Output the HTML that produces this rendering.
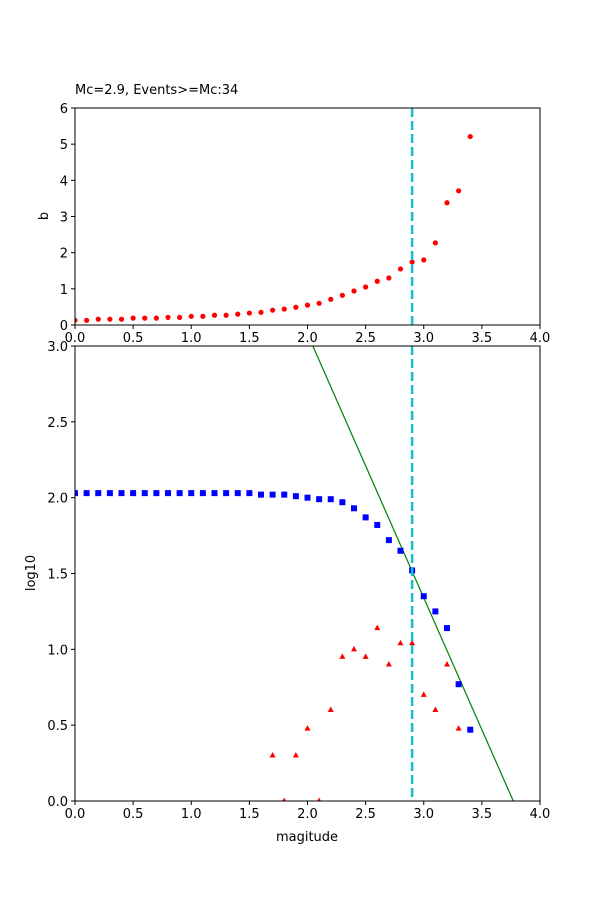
<!DOCTYPE html>
<html><head><meta charset="utf-8"><style>
body{margin:0;background:#fff}
svg{display:block;font-family:"DejaVu Sans","Liberation Sans",sans-serif}
</style></head><body>
<svg id="fig" width="600" height="900" viewBox="0 0 600 900" xmlns="http://www.w3.org/2000/svg">
<rect width="600" height="900" fill="#fff"/>
<text x="75" y="94" font-size="13" fill="#000">Mc=2.9, Events&gt;=Mc:34</text>
<g id="top"></g>
<g id="bot"></g>
<text x="0" y="0" font-size="13" text-anchor="middle" transform="translate(48,216) rotate(-90)">b</text>
<text x="0" y="0" font-size="13" text-anchor="middle" transform="translate(35,573) rotate(-90)">log10</text>
<text x="307" y="841" font-size="13" text-anchor="middle">magitude</text>
</svg>
<script>
const mags = [0,0.1,0.2,0.3,0.4,0.5,0.6,0.7,0.8,0.9,1.0,1.1,1.2,1.3,1.4,1.5,1.6,1.7,1.8,1.9,2.0,2.1,2.2,2.3,2.4,2.5,2.6,2.7,2.8,2.9,3.0,3.1,3.2,3.3,3.4];
const bValues = [0.13,0.13,0.16,0.16,0.16,0.19,0.19,0.19,0.21,0.21,0.24,0.24,0.27,0.27,0.30,0.33,0.35,0.41,0.44,0.49,0.55,0.60,0.71,0.82,0.94,1.05,1.21,1.30,1.55,1.74,1.80,2.27,3.38,3.71,5.21];
const cumLog = [2.03,2.03,2.03,2.03,2.03,2.03,2.03,2.03,2.03,2.03,2.03,2.03,2.03,2.03,2.03,2.03,2.02,2.02,2.02,2.01,2.00,1.99,1.99,1.97,1.93,1.87,1.82,1.72,1.65,1.52,1.35,1.25,1.14,0.77,0.47];
const triMags = [1.7,1.8,1.9,2.0,2.1,2.2,2.3,2.4,2.5,2.6,2.7,2.8,2.9,3.0,3.1,3.2,3.3];
const triLog = [0.30,0,0.30,0.477,0,0.60,0.95,1.0,0.95,1.14,0.90,1.04,1.04,0.70,0.60,0.90,0.477];
const mc = 2.9;
const fitA = 6.56, fitB = 1.74;
const xTicks = [0,0.5,1.0,1.5,2.0,2.5,3.0,3.5,4.0];
const topYTicks = [0,1,2,3,4,5,6];
const botYTicks = [0,0.5,1.0,1.5,2.0,2.5,3.0];

const NS="http://www.w3.org/2000/svg";
const L=75,R=540;
const xs=v=>L+(v/4)*(R-L);
const yTop=v=>325-(v/6)*(325-108);
const yBot=v=>801-(v/3)*(801-346);
function mk(p,tag,a){const e=document.createElementNS(NS,tag);for(const k in a)e.setAttribute(k,a[k]);p.appendChild(e);return e;}
const gTop=document.getElementById('top'), gBot=document.getElementById('bot');

function axes(g,y0,y1,ys,yt,fmt,nm){
  const clip=mk(g,'clipPath',{id:'c'+nm});mk(clip,'rect',{x:L,y:y0,width:R-L,height:y1-y0});
  xTicks.forEach(t=>{
    const tk=mk(g,'line',{x1:xs(t),x2:xs(t),y1:y1,y2:y1+4,stroke:'#000'});
    
    
    const tx=mk(g,'text',{x:xs(t),y:y1+17,'font-size':13,'text-anchor':'middle'});tx.textContent=t.toFixed(1);
    
    
  });
  yt.forEach(t=>{
    const tk=mk(g,'line',{x1:L-4,x2:L,y1:ys(t),y2:ys(t),stroke:'#000'});
    
    
    const tx=mk(g,'text',{x:L-7,y:ys(t)+5,'font-size':13,'text-anchor':'end'});tx.textContent=fmt(t);
    
    
  });
  return 'url(#c'+nm+')';
}
function frame(g,y0,y1){const f=mk(g,'rect',{x:L,y:y0,width:R-L,height:y1-y0,fill:'none',stroke:'#000','stroke-width':1});
  
  }

// top panel
const ct=axes(gTop,108,325,yTop,topYTicks,t=>String(t),'t');
mags.forEach((m,i)=>{const c=mk(gTop,'circle',{cx:xs(m),cy:yTop(bValues[i]),r:2.6,fill:'#f00','clip-path':ct});
  
  });
const v1=mk(gTop,'line',{x1:xs(mc),x2:xs(mc),y1:108,y2:325,stroke:'#17becf','stroke-width':2.5,'stroke-dasharray':'9,4'});


frame(gTop,108,325);

// bottom panel
const cb=axes(gBot,346,801,yBot,botYTicks,t=>t.toFixed(1),'b');
const fl=mk(gBot,'line',{x1:xs(0),y1:yBot(fitA),x2:xs(4),y2:yBot(fitA-fitB*4),stroke:'green','stroke-width':1.2,'clip-path':cb});


mags.forEach((m,i)=>{const s=mk(gBot,'rect',{x:xs(m)-3,y:yBot(cumLog[i])-3,width:6,height:6,fill:'#00f','clip-path':cb});
  
  });
triMags.forEach((m,i)=>{const x=xs(m),y=yBot(triLog[i]);
  const t=mk(gBot,'polygon',{points:`${x},${y-3.5} ${x-3},${y+2} ${x+3},${y+2}`,fill:'#f00','clip-path':cb});
  
  });
const v2=mk(gBot,'line',{x1:xs(mc),x2:xs(mc),y1:346,y2:801,stroke:'#17becf','stroke-width':2.5,'stroke-dasharray':'9,4'});


frame(gBot,346,801);
</script>
</body></html>
